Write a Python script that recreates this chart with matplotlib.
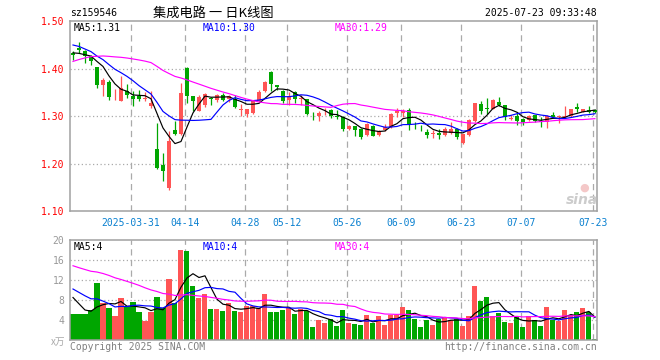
import numpy as np
import pandas as pd
import matplotlib
matplotlib.use("Agg")
import matplotlib.pyplot as plt

plt.rcParams['font.family'] = ['DejaVu Sans Mono']

# ---------------- data ----------------
opens = [1.4326, 1.4432, 1.4362, 1.4257, 1.4025, 1.3646, 1.3709, 1.3400, 1.3322, 1.3520,
         1.3415, 1.3427, 1.3352, 1.3217, 1.2312, 1.1975, 1.1484, 1.2712, 1.2621, 1.4011,
         1.3415, 1.3105, 1.3232, 1.3385, 1.3337, 1.3442, 1.3352, 1.3352, 1.3116, 1.3042,
         1.3057, 1.3322, 1.3526, 1.3933, 1.3653, 1.3526, 1.3337, 1.3499, 1.3360, 1.3358,
         1.3015, 1.3006, 1.3085, 1.3126, 1.3006, 1.2985, 1.2726, 1.2789, 1.2726, 1.2600,
         1.2789, 1.2600, 1.2705, 1.2762, 1.3057, 1.3057, 1.3126, 1.2800, 1.2762, 1.2669,
         1.2615, 1.2648, 1.2600, 1.2648, 1.2720, 1.2425, 1.2600, 1.2895, 1.3253, 1.3168,
         1.3147, 1.3301, 1.3232, 1.2945, 1.3006, 1.2931, 1.2916, 1.3021, 1.2901, 1.2867,
         1.3021, 1.2973, 1.2973, 1.3000, 1.3183, 1.3091, 1.3126, 1.3126]
highs = [1.4362, 1.4558, 1.4396, 1.4290, 1.4025, 1.3800, 1.3764, 1.3570, 1.3836, 1.3674,
         1.3533, 1.3554, 1.3505, 1.3520, 1.2853, 1.2221, 1.2678, 1.2901, 1.3695, 1.4025,
         1.3415, 1.3442, 1.3490, 1.3406, 1.3463, 1.3484, 1.3442, 1.3442, 1.3253, 1.3147,
         1.3337, 1.3547, 1.3743, 1.3954, 1.3653, 1.3547, 1.3512, 1.3526, 1.3442, 1.3358,
         1.3091, 1.3112, 1.3162, 1.3147, 1.3126, 1.3000, 1.2810, 1.2789, 1.2741, 1.2846,
         1.2810, 1.2705, 1.2825, 1.3057, 1.3162, 1.3141, 1.3162, 1.2880, 1.2811, 1.2726,
         1.2705, 1.2726, 1.2762, 1.2867, 1.2741, 1.2615, 1.2931, 1.3280, 1.3322, 1.3373,
         1.3352, 1.3406, 1.3232, 1.3021, 1.3091, 1.2952, 1.3021, 1.3021, 1.2973, 1.3021,
         1.3091, 1.3021, 1.3211, 1.3147, 1.3280, 1.3147, 1.3217, 1.3147]
lows = [1.4173, 1.4326, 1.4116, 1.4080, 1.3589, 1.3415, 1.3343, 1.3330, 1.3310, 1.3379,
        1.3204, 1.3310, 1.3310, 1.3168, 1.1890, 1.1638, 1.1448, 1.2594, 1.2606, 1.3274,
        1.3099, 1.3095, 1.3196, 1.3232, 1.3301, 1.3316, 1.3301, 1.3162, 1.3000, 1.2985,
        1.3050, 1.3301, 1.3512, 1.3533, 1.3547, 1.3280, 1.3232, 1.3267, 1.3232, 1.3021,
        1.2916, 1.2901, 1.3021, 1.2952, 1.2931, 1.2684, 1.2705, 1.2579, 1.2516, 1.2585,
        1.2579, 1.2579, 1.2691, 1.2741, 1.2973, 1.2973, 1.2705, 1.2726, 1.2691, 1.2531,
        1.2531, 1.2516, 1.2579, 1.2621, 1.2516, 1.2410, 1.2585, 1.2880, 1.3042, 1.3036,
        1.3141, 1.3211, 1.2916, 1.2916, 1.2811, 1.2811, 1.2901, 1.2867, 1.2775, 1.2754,
        1.2952, 1.2859, 1.2952, 1.2973, 1.3091, 1.3085, 1.3070, 1.3070]
closes = [1.4278, 1.4396, 1.4257, 1.4152, 1.3659, 1.3752, 1.3400, 1.3415, 1.3589, 1.3448,
          1.3364, 1.3358, 1.3379, 1.3267, 1.1905, 1.1836, 1.2467, 1.2621, 1.3484, 1.3427,
          1.3322, 1.3400, 1.3463, 1.3365, 1.3436, 1.3337, 1.3421, 1.3196, 1.3137, 1.3147,
          1.3337, 1.3512, 1.3722, 1.3674, 1.3604, 1.3316, 1.3421, 1.3358, 1.3375, 1.3042,
          1.3000, 1.3057, 1.3095, 1.3000, 1.2994, 1.2726, 1.2789, 1.2705, 1.2552, 1.2832,
          1.2585, 1.2691, 1.2762, 1.3042, 1.3112, 1.3112, 1.2811, 1.2790, 1.2748, 1.2600,
          1.2648, 1.2600, 1.2726, 1.2720, 1.2564, 1.2615, 1.2916, 1.3280, 1.3105, 1.3158,
          1.3337, 1.3232, 1.2973, 1.2955, 1.2901, 1.2867, 1.3000, 1.2901, 1.2880, 1.3000,
          1.2973, 1.3000, 1.3000, 1.3147, 1.3147, 1.3147, 1.3091, 1.3091]
volumes = [5.2, 5.2, 5.2, 6.0, 11.4, 7.5, 6.4, 4.8, 8.4, 6.7,
           7.6, 5.6, 3.9, 5.6, 8.6, 6.5, 12.2, 7.5, 18.0, 17.8,
           10.8, 8.4, 9.2, 6.2, 6.2, 5.8, 7.4, 5.8, 5.6, 6.8,
           6.8, 6.4, 9.2, 5.6, 5.6, 6.0, 6.4, 5.2, 6.2, 5.8,
           2.7, 4.0, 3.4, 4.2, 2.8, 6.0, 3.4, 3.2, 3.1, 5.0,
           3.4, 4.8, 3.0, 5.0, 5.0, 6.6, 6.0, 4.2, 2.6, 4.0,
           3.0, 4.2, 4.6, 4.0, 4.2, 2.8, 4.8, 10.8, 7.8, 8.6,
           4.8, 5.4, 3.6, 3.4, 4.6, 2.6, 4.8, 4.0, 2.8, 6.6,
           4.0, 3.8, 6.0, 5.0, 5.6, 6.4, 5.6, 0.2]
# estimated closes / volumes before the visible window (inferred from where the MA lines start)
prior_closes = [1.320, 1.325, 1.333, 1.345, 1.355, 1.365, 1.375, 1.385, 1.390, 1.395,
                1.400, 1.410, 1.420, 1.430, 1.440, 1.440, 1.445, 1.450, 1.460, 1.470,
                1.470, 1.480, 1.470, 1.460, 1.450, 1.445, 1.440, 1.430, 1.422]
prior_volumes = [17.0, 16.0, 16.5, 16.0, 16.3, 18.0, 19.0, 18.5, 18.0, 19.0,
                 18.0, 18.6, 18.5, 18.0, 18.5, 16.0, 15.5, 15.5, 15.3, 15.3,
                 12.0, 12.0, 12.0, 11.5, 12.0, 11.5, 11.4, 7.2, 7.2]
holidays = ['2025-04-04', '2025-05-01', '2025-05-02', '2025-05-05', '2025-06-02']
tick_dates = ['2025-03-31', '2025-04-14', '2025-04-28', '2025-05-12', '2025-05-26',
              '2025-06-09', '2025-06-23', '2025-07-07', '2025-07-23']
tick_labels = ['2025-03-31', '04-14', '04-28', '05-12', '05-26', '06-09', '06-23', '07-07', '07-23']
price_ticks = [1.10, 1.20, 1.30, 1.40, 1.50]
vol_ticks = [4, 8, 12, 16, 20]
ma_periods = [5, 10, 30]
ma_colors = ['black', '#0000ff', '#ff00ff']

# ---------------- derived ----------------
dates = pd.bdate_range('2025-03-17', '2025-07-23')
dates = dates[~dates.isin(pd.to_datetime(holidays))]
n = len(closes)
x = np.arange(n)
tick_pos = dates.get_indexer(pd.to_datetime(tick_dates)) - 0.38

o = np.array(opens); h = np.array(highs); l = np.array(lows); c = np.array(closes)
v = np.array(volumes)
up = c >= o
RED = '#ff5555'
GREEN = '#00a600'
cols = np.where(up, RED, GREEN)

full_c = pd.Series(prior_closes + closes)
full_v = pd.Series(prior_volumes + volumes)
ma_c = {p: full_c.rolling(p).mean().values[-n:] for p in ma_periods}
ma_v = {p: full_v.rolling(p).mean().values[-n:] for p in ma_periods}

W, H = 660, 360
fig = plt.figure(figsize=(6.6, 3.6), dpi=100)
fig.patch.set_facecolor('white')


def ax_rect(left, top, right, bottom):
    return [left / W, 1 - bottom / H, (right - left) / W, (bottom - top) / H]


ax = fig.add_axes(ax_rect(70, 21, 597, 211))
axv = fig.add_axes(ax_rect(70, 240, 597, 340))

FRAME = '#a0a0a0'
GRID = '#aaaaaa'
for a in (ax, axv):
    a.set_facecolor('white')
    for s in a.spines.values():
        s.set_color(FRAME)
        s.set_linewidth(1.1)
    a.set_xlim(-0.5, n - 0.65)
    for tp in tick_pos:
        a.axvline(tp, color=GRID, lw=0.9, ls=(0, (5, 3.5)), zorder=0)
    a.tick_params(length=0)

# ---- price panel ----
ax.set_ylim(price_ticks[0], price_ticks[-1])
for pt in price_ticks[1:-1]:
    ax.axhline(pt, color=GRID, lw=0.9, ls=(0, (1, 2)), zorder=0)
ax.vlines(x, l, h, colors=cols, lw=0.9, zorder=2)
body_h = np.maximum(np.abs(c - o), 0.0018)
body_b = np.minimum(o, c) - np.where(np.abs(c - o) < 0.0018, 0.0009, 0)
ax.bar(x, body_h, bottom=body_b, width=0.68, color=cols, linewidth=0, zorder=3)
for p, col in zip(ma_periods, ma_colors):
    ax.plot(x, ma_c[p], color=col, lw=0.85, zorder=4)
ax.set_yticks(price_ticks)
ax.set_yticklabels([f'{t:.2f}' for t in price_ticks], color='red', fontsize=7)
ax.tick_params(axis='y', pad=4)
ax.set_xticks(tick_pos)
ax.set_xticklabels(tick_labels, color='#0a80d0', fontsize=7)
ax.tick_params(axis='x', pad=5)

# ---- volume panel ----
axv.set_ylim(0, vol_ticks[-1])
for vt in vol_ticks[:-1]:
    axv.axhline(vt, color=GRID, lw=0.9, ls=(0, (1, 2)), zorder=0)
axv.bar(x, v, width=0.84, color=cols, linewidth=0, zorder=2)
for p, col in zip(ma_periods, ma_colors):
    axv.plot(x, ma_v[p], color=col, lw=0.85, zorder=4)
axv.set_yticks(vol_ticks)
axv.set_yticklabels([str(t) for t in vol_ticks], color='#999999', fontsize=7)
axv.tick_params(axis='y', pad=4)
axv.set_xticks([])


def ftext(px, py, s, **kw):
    fig.text(px / W, 1 - py / H, s, **kw)


# header texts
ftext(70, 13, 'sz159546', fontsize=7, color='black', va='center', ha='left')
ftext(213, 13, '集成电路 一 日K线图', fontsize=9.5, color='black', va='center', ha='center',
      family=['Noto Sans CJK SC', 'DejaVu Sans'])
ftext(597, 13, '2025-07-23 09:33:48', fontsize=7, color='black', va='center', ha='right')

# MA legends
ma_text_x = [74, 203, 335]
for p, col, tx in zip(ma_periods, ma_colors, ma_text_x):
    ftext(tx, 28, f'MA{p}:{ma_c[p][-1]:.2f}', fontsize=7, color=col, va='center', ha='left')
    ftext(tx, 247, f'MA{p}:{int(ma_v[p][-1])}', fontsize=7, color=col, va='center', ha='left')

# volume unit
ftext(65, 342, 'x万', fontsize=7, color='#aaaaaa', va='center', ha='right',
      family=['Noto Sans CJK SC', 'DejaVu Sans'])

# footer
ftext(70, 347, 'Copyright 2025 SINA.COM', fontsize=7, color='#808080', va='center', ha='left')
ftext(597, 347, 'http://finance.sina.com.cn', fontsize=7, color='#808080', va='center', ha='right')

# watermark
ftext(582, 200, 'sina', fontsize=10, color='#cccccc', va='center', ha='center',
      style='italic', weight='bold', family=['DejaVu Sans'])
ftext(584, 188, '●', fontsize=8, color='#f4c8c8', va='center', ha='center', family=['DejaVu Sans'])

fig.savefig('out.png', dpi=100, facecolor='white')
